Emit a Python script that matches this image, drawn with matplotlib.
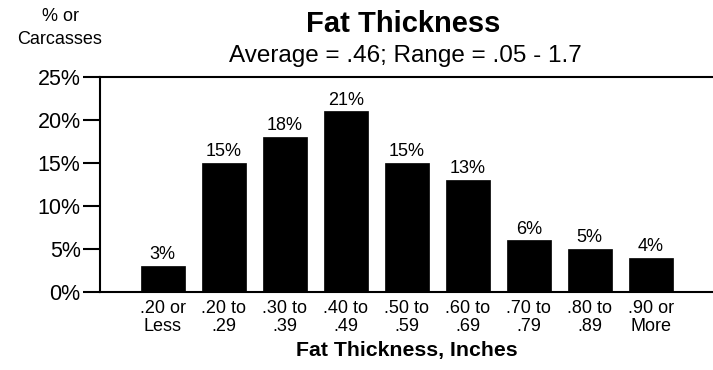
import matplotlib
matplotlib.use("Agg")
import matplotlib.pyplot as plt
import numpy as np

plt.rcParams['font.family'] = ['Liberation Sans', 'DejaVu Sans']

categories = [".20 or\nLess", ".20 to\n.29", ".30 to\n.39", ".40 to\n.49", ".50 to\n.59",
              ".60 to\n.69", ".70 to\n.79", ".80 to\n.89", ".90 or\nMore"]
percent_of_carcasses = [3, 15, 18, 21, 15, 13, 6, 5, 4]
y_ticks = [0, 5, 10, 15, 20, 25]
y_tick_labels = ["0%", "5%", "10%", "15%", "20%", "25%"]

W, H = 713, 370
fig = plt.figure(figsize=(W / 100, H / 100), dpi=100)
ax = fig.add_axes([100 / W, (H - 292) / H, 1 - 100 / W, (292 - 77) / H])

x = np.arange(len(categories))
ax.bar(x, percent_of_carcasses, width=0.72, color="black", edgecolor="black", linewidth=0.5)

for xi, v in zip(x, percent_of_carcasses):
    ax.annotate(f"{v}%", (xi, v), xytext=(0, 2), textcoords="offset points",
                ha="center", va="bottom", fontsize=13)

ax.set_xlim(-1.03, 9.02)
ax.set_ylim(0, 25)
ax.set_yticks(y_ticks)
ax.set_yticklabels(y_tick_labels, fontsize=15.5)
ax.set_xticks(x)
ax.set_xticklabels(categories, fontsize=13, linespacing=1.05)
ax.tick_params(axis="x", length=0, pad=6)
ax.tick_params(axis="y", direction="out", length=12, width=1.5, pad=2)

for side in ["left", "top", "bottom"]:
    ax.spines[side].set_linewidth(1.5)
ax.spines["right"].set_visible(False)

ax.set_xlabel("Fat Thickness, Inches", fontsize=15.3, fontweight="bold", labelpad=4)

fig.text(403 / W, 1 - 32 / H, "Fat Thickness", ha="center", va="baseline",
         fontsize=21, fontweight="bold")
fig.text(405 / W, 1 - 62 / H, "Average = .46; Range = .05 - 1.7", ha="center",
         va="baseline", fontsize=17.5)
fig.text(60 / W, 1 - 21 / H, "% or", ha="center", va="baseline", fontsize=13)
fig.text(60 / W, 1 - 44 / H, "Carcasses", ha="center", va="baseline", fontsize=13)

fig.savefig("out.png", dpi=100)
